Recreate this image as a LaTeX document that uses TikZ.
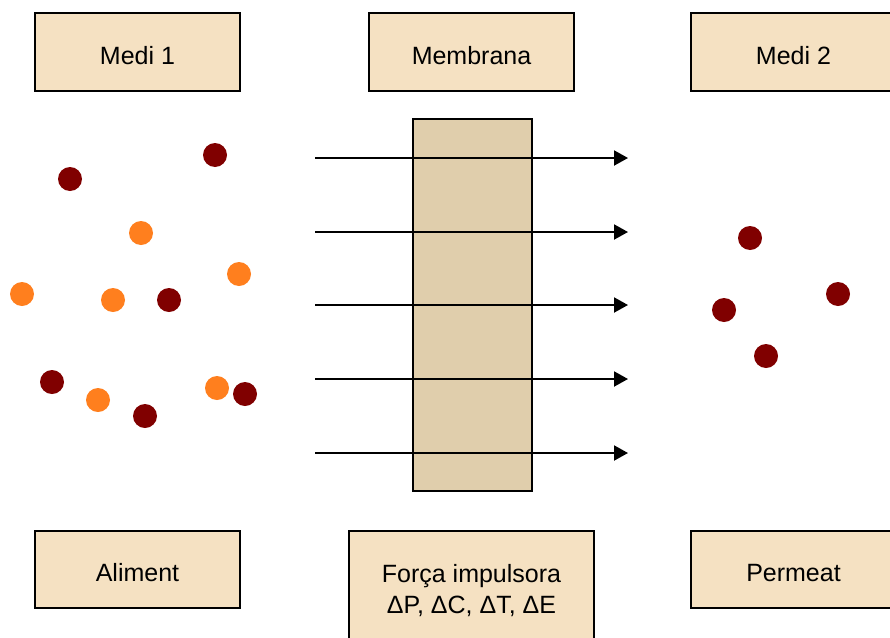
\documentclass[tikz,border=0pt]{standalone}
\usepackage{fontspec}
\setmainfont{Liberation Sans}
\usetikzlibrary{arrows.meta}
\definecolor{boxfill}{HTML}{F5E1C2}
\definecolor{membfill}{HTML}{E0CEAC}
\definecolor{darkdot}{HTML}{800000}
\definecolor{orangedot}{HTML}{FF7F1E}
\tikzset{
  labelbox/.style={draw=black, line width=2pt, fill=boxfill, minimum width=205pt, minimum height=78pt, inner sep=0pt, align=center, font=\fontsize{25}{31}\selectfont},
  oneline/.style={text height=24pt, text depth=0pt},
  dotdark/.style={circle, fill=darkdot, minimum size=24pt, inner sep=0pt},
  dotorange/.style={circle, fill=orangedot, minimum size=24pt, inner sep=0pt},
  flow/.style={line width=2pt, -{Triangle[length=14pt,width=15pt]}}
}
\begin{document}
\begin{tikzpicture}[x=1pt,y=-1pt]
\useasboundingbox (0,0) rectangle (890,637);
\clip (0,0) rectangle (890,637);
% top boxes
\node[labelbox, oneline] (medi1) at (137.5,52) {Medi 1};
\node[labelbox, oneline] (membrana) at (471.5,52) {Membrana};
\node[labelbox, oneline] (medi2) at (793.5,52) {Medi 2};
% bottom boxes
\node[labelbox, oneline, minimum height=77pt] (aliment) at (137.5,569.5) {Aliment};
\node[labelbox, minimum width=245pt, minimum height=120pt] (forca) at (471.5,591) {Força impulsora\\ΔP, ΔC, ΔT, ΔE};
\node[labelbox, oneline, minimum height=77pt] (permeat) at (793.5,569.5) {Permeat};
% membrane
\node[draw=black, line width=2pt, fill=membfill, minimum width=119pt, minimum height=372pt, inner sep=0pt] (memb) at (472.5,305) {};
% arrows
\foreach \i/\y in {1/158,2/232,3/305,4/379,5/453}{
  \coordinate (s\i) at (315,\y);
  \coordinate (e\i) at (628,\y);
  \draw[flow] (s\i) -- (e\i);
}
% feed particles
\node[dotdark] (d1) at (70,179) {};
\node[dotdark] (d2) at (215,155) {};
\node[dotorange] (o1) at (141,233) {};
\node[dotorange] (o2) at (239,274) {};
\node[dotorange] (o3) at (22,294) {};
\node[dotorange] (o4) at (113,300) {};
\node[dotdark] (d3) at (169,300) {};
\node[dotdark] (d4) at (52,382) {};
\node[dotorange] (o5) at (98,400) {};
\node[dotdark] (d5) at (145,416) {};
\node[dotorange] (o6) at (217,388) {};
\node[dotdark] (d6) at (245,394) {};
% permeate particles
\node[dotdark] (p1) at (750,238) {};
\node[dotdark] (p2) at (724,310) {};
\node[dotdark] (p3) at (838,294) {};
\node[dotdark] (p4) at (766,356) {};
\end{tikzpicture}
\end{document}
